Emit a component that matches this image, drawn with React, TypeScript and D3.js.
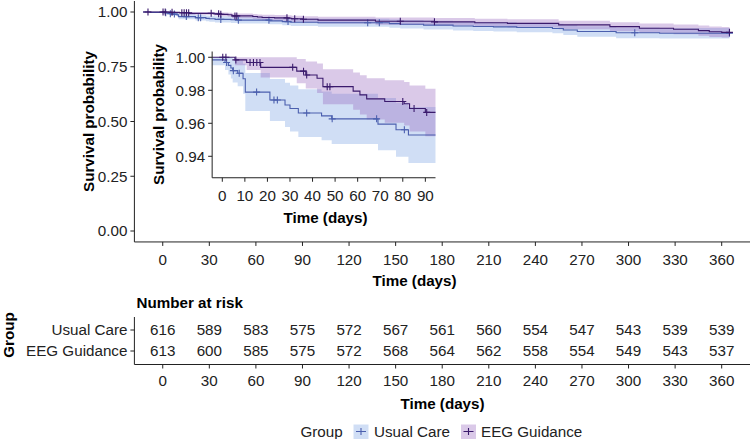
import React from 'react';
import * as d3 from 'd3';

// ---------- DATA ----------
const groupNames = ['Usual Care', 'EEG Guidance'];

// Usual Care: Kaplan-Meier steps (time in days, survival, lower CI, upper CI)
const ucTime = [-12.7, -8, 1.2, 2.7, 3.8, 4.6, 6.8, 9.2, 10.2, 21.1, 27.8, 30, 33.7, 44, 48.5, 69, 77, 82.5, 100, 146, 153, 168, 187, 200, 213, 228, 251, 258, 267, 292, 320];
const ucSurv = [1, 0.9984, 0.9968, 0.9951, 0.9935, 0.9919, 0.9903, 0.987, 0.9789, 0.9741, 0.9711, 0.969, 0.9662, 0.9645, 0.9627, 0.9595, 0.9561, 0.9529, 0.951, 0.947, 0.944, 0.94, 0.936, 0.934, 0.932, 0.929, 0.925, 0.918, 0.911, 0.905, 0.903];
const ucLower = [1, 0.9952, 0.9923, 0.9895, 0.9871, 0.9847, 0.9825, 0.9779, 0.9674, 0.9614, 0.9577, 0.9551, 0.9517, 0.9497, 0.9475, 0.9437, 0.9397, 0.9359, 0.9331, 0.9285, 0.925, 0.9203, 0.9157, 0.9134, 0.9112, 0.9077, 0.9032, 0.8953, 0.8874, 0.8807, 0.8785];
const ucUpper = [1, 1, 1, 1, 0.9999, 0.9991, 0.9981, 0.9961, 0.9904, 0.9868, 0.9845, 0.9829, 0.9807, 0.9793, 0.9779, 0.9753, 0.9725, 0.9699, 0.9689, 0.9655, 0.963, 0.9597, 0.9563, 0.9546, 0.9528, 0.9503, 0.9468, 0.9407, 0.9346, 0.9293, 0.9275];
const ucCensor = [1.9, 4.9, 7.5, 15.2, 22.9, 24.4, 37.4, 48.7, 68.4, 80.7, 132, 139.5, 304, 365];

// EEG Guidance
const eegTime = [-12.7, 5.6, 10.8, 17, 33, 37, 42, 44.6, 58, 61, 64, 72, 80.6, 83, 90, 100, 137, 175, 201, 222, 255, 288, 307, 329, 345, 352, 360];
const eegSurv = [1, 0.9984, 0.9968, 0.9939, 0.9916, 0.9893, 0.9873, 0.9822, 0.9795, 0.9772, 0.9748, 0.9732, 0.9718, 0.969, 0.9666, 0.963, 0.958, 0.955, 0.951, 0.948, 0.941, 0.933, 0.926, 0.921, 0.915, 0.91, 0.907];
const eegLower = [1, 0.9952, 0.9923, 0.9877, 0.9843, 0.9811, 0.9783, 0.9716, 0.9682, 0.9653, 0.9623, 0.9603, 0.9586, 0.9551, 0.9522, 0.9474, 0.9414, 0.9378, 0.9331, 0.9296, 0.9215, 0.9123, 0.9043, 0.8987, 0.8919, 0.8863, 0.883];
const eegUpper = [1, 1, 1, 1, 0.9989, 0.9975, 0.9963, 0.9928, 0.9908, 0.9891, 0.9873, 0.9861, 0.985, 0.9829, 0.981, 0.9786, 0.9746, 0.9722, 0.9689, 0.9664, 0.9605, 0.9537, 0.9477, 0.9433, 0.9381, 0.9337, 0.931];
const eegCensor = [-9.5, 0.2, 1.6, 6, 12.3, 13.8, 15.3, 16.7, 31.2, 36, 37.4, 46.5, 47.7, 80, 85, 90.6, 153, 175, 365];

const followUpEnd = 365;

const mainXTicks = [0, 30, 60, 90, 120, 150, 180, 210, 240, 270, 300, 330, 360];
const mainYTicks = [0, 0.25, 0.5, 0.75, 1];
const insetXTicks = [0, 10, 20, 30, 40, 50, 60, 70, 80, 90];
const insetYTicks = [0.94, 0.96, 0.98, 1];

const riskTimes = [0, 30, 60, 90, 120, 150, 180, 210, 240, 270, 300, 330, 360];
const riskUC = [616, 589, 583, 575, 572, 567, 561, 560, 554, 547, 543, 539, 539];
const riskEEG = [613, 600, 585, 575, 572, 568, 564, 562, 558, 554, 549, 543, 537];

// ---------- STYLE ----------
const FONT = '"Liberation Sans", Arial, Helvetica, sans-serif';
const FS = 15.2;
const ucLine = '#4b5fae';
const eegLine = '#3a1a6c';
const ucFill = 'rgb(120,160,225)';
const eegFill = 'rgb(150,100,190)';
const fillAlpha = 0.35;
const axisCol = '#222';
const textCol = '#222';

type Pt = { t: number; s: number; lo: number; hi: number };

function makeSeries(time: number[], surv: number[], lo: number[], hi: number[]): Pt[] {
  const pts = time.map((t, i) => ({ t, s: surv[i], lo: lo[i], hi: hi[i] }));
  const last = pts[pts.length - 1];
  pts.push({ t: followUpEnd, s: last.s, lo: last.lo, hi: last.hi });
  return pts;
}

function survAt(pts: Pt[], t: number): number {
  let s = pts[0].s;
  for (const p of pts) {
    if (p.t <= t) s = p.s;
  }
  return s;
}

const series = [
  { name: groupNames[0], pts: makeSeries(ucTime, ucSurv, ucLower, ucUpper), censor: ucCensor, line: ucLine, fill: ucFill },
  { name: groupNames[1], pts: makeSeries(eegTime, eegSurv, eegLower, eegUpper), censor: eegCensor, line: eegLine, fill: eegFill },
];

function Curves({ x, y, cross, id }: { x: any; y: any; cross: number; id: string }) {
  const area = d3
    .area<Pt>()
    .x((d) => x(d.t))
    .y0((d) => y(d.lo))
    .y1((d) => y(d.hi))
    .curve(d3.curveStepAfter);
  const line = d3
    .line<Pt>()
    .x((d) => x(d.t))
    .y((d) => y(d.s))
    .curve(d3.curveStepAfter);
  return (
    <g>
      {series.map((s) => (
        <path key={id + 'a' + s.name} d={area(s.pts) || ''} fill={s.fill} fillOpacity={fillAlpha} stroke="none" />
      ))}
      {series.map((s) => (
        <g key={id + 'l' + s.name}>
          <path d={line(s.pts) || ''} fill="none" stroke={s.line} strokeWidth={1.1} />
          {s.censor.map((c, i) => {
            const cx = x(c);
            const cy = y(survAt(s.pts, c));
            return (
              <path
                key={i}
                d={`M${cx - cross},${cy}H${cx + cross}M${cx},${cy - cross}V${cy + cross}`}
                stroke={s.line}
                strokeWidth={1.1}
              />
            );
          })}
        </g>
      ))}
    </g>
  );
}

export default function App() {
  // main panel
  const xMain = d3.scaleLinear().domain([-18.25, 383.25]).range([134.4, 757.8]);
  const yMain = d3.scaleLinear().domain([-0.05, 1.05]).range([241.95, 1.05]);
  const mainLeft = 134.4;
  const mainBottom = 241.95;

  // inset panel
  const xIn = d3.scaleLinear().domain([-4.5, 94.5]).range([212.15, 435.5]);
  const yIn = d3.scaleLinear().domain([0.927, 1.0035]).range([177.75, 51.5]);
  const inL = 212.15, inR = 435.5, inT = 51.5, inB = 177.75;

  // risk table
  const yRisk = d3.scalePoint<string>().domain(groupNames).range([330, 351]);
  const riskTop = 317, riskBottom = 364.5;
  const riskRows = [riskUC, riskEEG];

  const fmt2 = d3.format('.2f');

  return (
    <svg
      width={750}
      height={439}
      style={{ position: 'absolute', left: 0, top: 0, background: '#fff' }}
      fontFamily={FONT}
    >
      <defs>
        <clipPath id="mainClip">
          <rect x={mainLeft} y={0} width={750 - mainLeft} height={mainBottom} />
        </clipPath>
        <clipPath id="insetClip">
          <rect x={inL} y={inT} width={inR - inL} height={inB - inT} />
        </clipPath>
      </defs>

      {/* ---------- Main plot ---------- */}
      <g clipPath="url(#mainClip)">
        <Curves x={xMain} y={yMain} cross={3.5} id="m" />
      </g>
      <line x1={mainLeft} x2={mainLeft} y1={1} y2={mainBottom} stroke={axisCol} strokeWidth={1} />
      <line x1={mainLeft} x2={750} y1={mainBottom} y2={mainBottom} stroke={axisCol} strokeWidth={1} />
      {mainYTicks.map((v) => (
        <g key={'my' + v}>
          <line x1={mainLeft - 4} x2={mainLeft} y1={yMain(v)} y2={yMain(v)} stroke={axisCol} />
          <text x={mainLeft - 7} y={yMain(v)} dy="0.35em" textAnchor="end" fontSize={FS} fill={textCol}>
            {fmt2(v)}
          </text>
        </g>
      ))}
      {mainXTicks.map((t) => (
        <g key={'mx' + t}>
          <line x1={xMain(t)} x2={xMain(t)} y1={mainBottom} y2={mainBottom + 4} stroke={axisCol} />
          <text x={xMain(t)} y={260} dy="0.35em" textAnchor="middle" fontSize={FS} fill={textCol}>
            {t}
          </text>
        </g>
      ))}
      <text x={414.5} y={281} dy="0.35em" textAnchor="middle" fontSize={FS} fontWeight="bold" fill="#000">
        Time (days)
      </text>
      <text
        transform={`translate(89,121.5) rotate(-90)`}
        dy="0.35em"
        textAnchor="middle"
        fontSize={FS}
        fontWeight="bold"
        fill="#000"
      >
        Survival probability
      </text>

      {/* ---------- Inset ---------- */}
      <rect x={inL} y={inT} width={inR - inL} height={inB - inT} fill="#fff" />
      <g clipPath="url(#insetClip)">
        <Curves x={xIn} y={yIn} cross={3.5} id="i" />
      </g>
      <line x1={inL} x2={inL} y1={inT} y2={inB} stroke={axisCol} strokeWidth={1} />
      <line x1={inL} x2={inR} y1={inB} y2={inB} stroke={axisCol} strokeWidth={1} />
      {insetYTicks.map((v) => (
        <g key={'iy' + v}>
          <line x1={inL - 4} x2={inL} y1={yIn(v)} y2={yIn(v)} stroke={axisCol} />
          <text x={inL - 7} y={yIn(v)} dy="0.35em" textAnchor="end" fontSize={FS} fill={textCol}>
            {fmt2(v)}
          </text>
        </g>
      ))}
      {insetXTicks.map((t) => (
        <g key={'ix' + t}>
          <line x1={xIn(t)} x2={xIn(t)} y1={inB} y2={inB + 4} stroke={axisCol} />
          <text x={xIn(t)} y={195.5} dy="0.35em" textAnchor="middle" fontSize={FS} fill={textCol}>
            {t}
          </text>
        </g>
      ))}
      <text x={325.5} y={217.5} dy="0.35em" textAnchor="middle" fontSize={FS} fontWeight="bold" fill="#000">
        Time (days)
      </text>
      <text
        transform={`translate(159,114.5) rotate(-90)`}
        dy="0.35em"
        textAnchor="middle"
        fontSize={FS}
        fontWeight="bold"
        fill="#000"
      >
        Survival probability
      </text>

      {/* ---------- Risk table ---------- */}
      <text x={136.5} y={303} dy="0.35em" fontSize={FS} fontWeight="bold" fill="#000">
        Number at risk
      </text>
      <line x1={mainLeft} x2={mainLeft} y1={riskTop} y2={riskBottom} stroke={axisCol} />
      <line x1={mainLeft} x2={750} y1={riskBottom} y2={riskBottom} stroke={axisCol} />
      {groupNames.map((g, gi) => (
        <g key={'rg' + g}>
          <line x1={mainLeft - 4} x2={mainLeft} y1={yRisk(g)} y2={yRisk(g)} stroke={axisCol} />
          <text x={mainLeft - 7} y={yRisk(g)} dy="0.35em" textAnchor="end" fontSize={FS} fill={textCol}>
            {g}
          </text>
          {riskTimes.map((t, i) => (
            <text key={i} x={xMain(t)} y={yRisk(g)} dy="0.35em" textAnchor="middle" fontSize={FS} fill={textCol}>
              {riskRows[gi][i]}
            </text>
          ))}
        </g>
      ))}
      {riskTimes.map((t) => (
        <g key={'rx' + t}>
          <line x1={xMain(t)} x2={xMain(t)} y1={riskBottom} y2={riskBottom + 4} stroke={axisCol} />
          <text x={xMain(t)} y={380.5} dy="0.35em" textAnchor="middle" fontSize={FS} fill={textCol}>
            {t}
          </text>
        </g>
      ))}
      <text x={442.5} y={403.5} dy="0.35em" textAnchor="middle" fontSize={FS} fontWeight="bold" fill="#000">
        Time (days)
      </text>
      <text
        transform={`translate(9,335) rotate(-90)`}
        dy="0.35em"
        textAnchor="middle"
        fontSize={FS}
        fontWeight="bold"
        fill="#000"
      >
        Group
      </text>

      {/* ---------- Legend ---------- */}
      <text x={300.5} y={431.5} dy="0.35em" fontSize={FS} fill={textCol}>
        Group
      </text>
      {series.map((s, i) => {
        const kx = i === 0 ? 353.5 : 461;
        const tx = i === 0 ? 374 : 481;
        return (
          <g key={'lg' + s.name}>
            <rect x={kx} y={424.5} width={15} height={14.5} fill={s.fill} fillOpacity={fillAlpha} />
            <path
              d={`M${kx + 2.5},${431.5}H${kx + 12.5}M${kx + 7.5},${428}V${435}`}
              stroke={s.line}
              strokeWidth={1.1}
            />
            <text x={tx} y={431.5} dy="0.35em" fontSize={FS} fill={textCol}>
              {s.name}
            </text>
          </g>
        );
      })}
    </svg>
  );
}
